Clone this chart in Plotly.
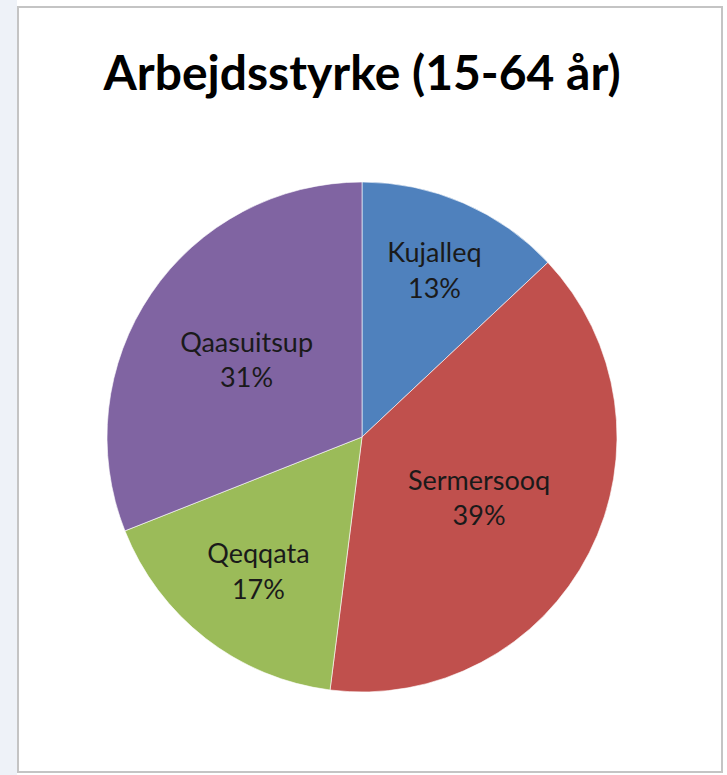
import plotly.graph_objects as go

regions = ["Kujalleq", "Sermersooq", "Qeqqata", "Qaasuitsup"]
shares = [13, 39, 17, 31]
colors = ["#4F81BD", "#C0504D", "#9BBB59", "#8064A2"]
title_text = "Arbejdsstyrke (15-64 år)"

W, H = 727, 775

fig = go.Figure(go.Pie(
    labels=regions,
    values=shares,
    sort=False,
    direction="clockwise",
    rotation=0,
    marker=dict(colors=colors, line=dict(color="rgba(255,255,255,0.6)", width=1)),
    texttemplate="%{label}<br>%{percent:.0%}",
    textposition="inside",
    insidetextorientation="horizontal",
    textfont=dict(family="Lato, 'Open Sans', sans-serif", size=27, color="#1a1a1a"),
    domain=dict(x=[107 / W, 617 / W], y=[(H - 692) / H, (H - 182) / H]),
    hoverinfo="skip",
    showlegend=False,
))

fig.update_layout(
    width=W, height=H,
    margin=dict(l=0, r=0, t=0, b=0),
    paper_bgcolor="white",
    uniformtext=dict(minsize=27, mode="show"),
    title=dict(text="<b>" + title_text + "</b>", x=0.498, xanchor="center",
               y=1 - 73 / H, yanchor="middle",
               font=dict(family="Lato, 'Open Sans', sans-serif", size=48, color="#000000")),
    shapes=[
        dict(type="rect", xref="paper", yref="paper", x0=0, x1=17 / W, y0=0, y1=1,
             fillcolor="#eef2f8", line=dict(width=0), layer="below"),
        dict(type="rect", xref="paper", yref="paper", x0=18 / W, x1=722 / W,
             y0=(H - 772) / H, y1=(H - 7) / H,
             fillcolor="rgba(0,0,0,0)", line=dict(color="#c4c4c4", width=2), layer="above"),
    ],
)

fig.write_html("out.html", config={"displayModeBar": False},
               post_script="document.body.style.margin='0';document.body.style.padding='0';")
